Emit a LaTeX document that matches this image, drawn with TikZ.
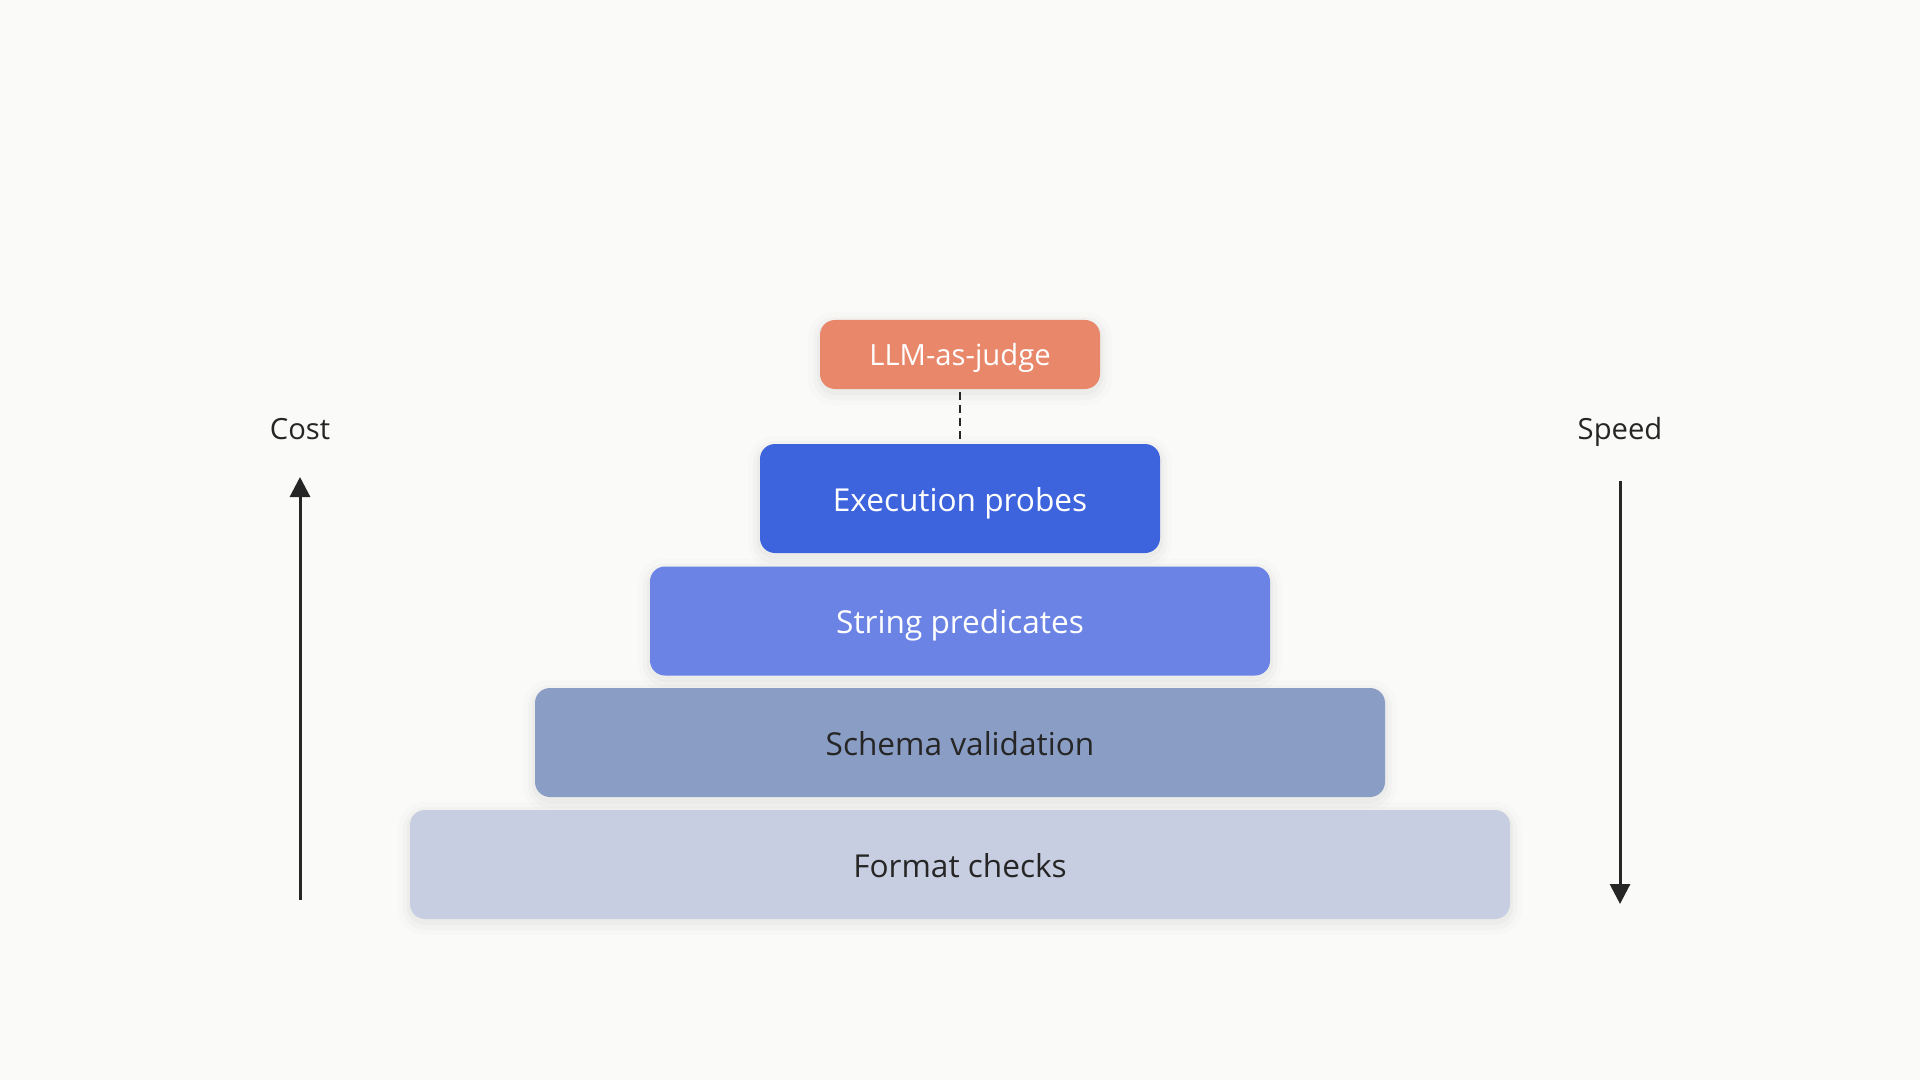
\documentclass[tikz,border=0pt]{standalone}
\usepackage{fontspec}
\setmainfont[RawFeature=-liga]{Open Sans}
\usetikzlibrary{arrows.meta}
\definecolor{bg}{HTML}{FAFAF8}
\definecolor{ink}{HTML}{262626}
\definecolor{judge}{HTML}{E8876A}
\definecolor{exec}{HTML}{3D63DD}
\definecolor{strp}{HTML}{6A83E4}
\definecolor{schema}{HTML}{8A9DC5}
\definecolor{fmt}{HTML}{C8CEE1}
\tikzset{
  tier/.style={rounded corners=7.5pt, inner sep=0pt, draw=none,
    font=\fontsize{15.8}{19}\selectfont, text height=0.72em+5.5pt, text depth=0pt,
    minimum height=54.5pt,
    preaction={draw=black, draw opacity=0.012, line width=12pt, transform canvas={yshift=-2pt}},
    preaction={draw=black, draw opacity=0.018, line width=7pt, transform canvas={yshift=-2pt}},
    preaction={draw=black, draw opacity=0.025, line width=3pt, transform canvas={yshift=-1.5pt}}},
  axislabel/.style={font=\fontsize{14.6}{17}\selectfont, text=ink, inner sep=0pt, text height=0.72em+4pt, text depth=0pt},
  axisarrow/.style={draw=ink, line width=1.5pt, -{Triangle[length=10pt,width=10pt]}},
  link/.style={draw=ink, line width=1pt, dash pattern=on 4pt off 2.5pt}
}
\begin{document}
\begin{tikzpicture}[x=0.5pt,y=-0.5pt]
\fill[bg] (0,0) rectangle (1920,1080);
\useasboundingbox (0,0) rectangle (1920,1080);
\node[tier, fill=judge, text=white, minimum width=140pt, minimum height=34.5pt, font=\fontsize{14.6}{17}\selectfont, text height=0.72em+4pt] (llm) at (960,354.5) {LLM-as-judge};
\node[tier, fill=exec, text=white, minimum width=200pt] (exec) at (960,498.5) {Execution probes};
\node[tier, fill=strp, text=white, minimum width=310pt] (str) at (960,621) {String predicates};
\node[tier, fill=schema, text=ink, minimum width=425pt] (schema) at (960,742.5) {Schema validation};
\node[tier, fill=fmt, text=ink, minimum width=550pt] (fmt) at (960,864.5) {Format checks};
\draw[link] ([yshift=-1.5pt]llm.south) -- ([yshift=1.5pt]exec.north);
\node[axislabel] (cost) at (300,428) {Cost};
\node[axislabel] (speed) at (1620,428) {Speed};
\coordinate (costlow) at (300,900);
\coordinate (costhigh) at (300,477);
\coordinate (speedtop) at (1620,481);
\coordinate (speedlow) at (1620,904);
\draw[axisarrow] (costlow) -- (costhigh);
\draw[axisarrow] (speedtop) -- (speedlow);
\end{tikzpicture}
\end{document}
